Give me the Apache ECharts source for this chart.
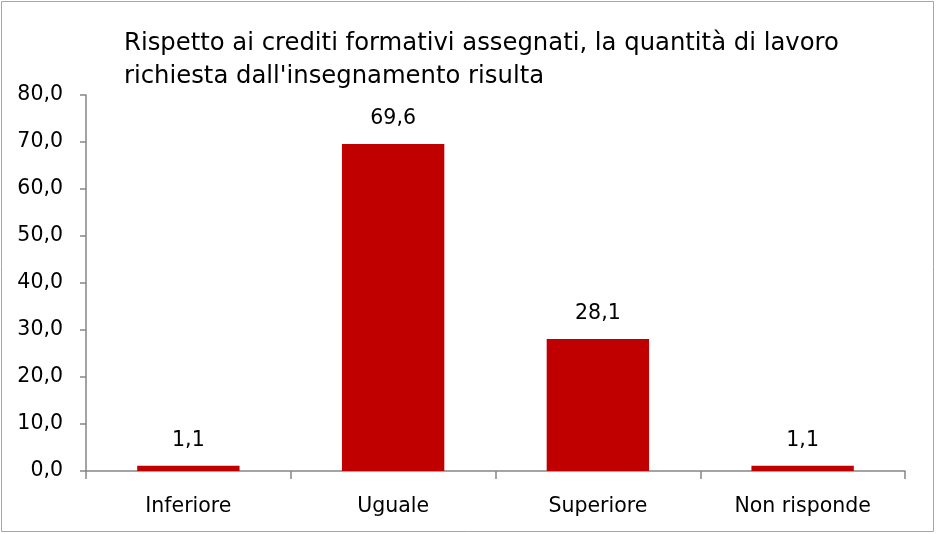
<!DOCTYPE html>
<html><head><meta charset="utf-8">
<script src="https://cdn.jsdelivr.net/npm/echarts@6/dist/echarts.min.js"></script>
<style>html,body{margin:0;padding:0;background:#fff}#c{width:936px;height:534px}</style>
</head><body><div id="c"></div>
<script>
const categories = ["Inferiore", "Uguale", "Superiore", "Non risponde"];
const values = [1.1, 69.6, 28.1, 1.1];
const titleText = "Rispetto ai crediti formativi assegnati, la quantità di lavoro\nrichiesta dall'insegnamento risulta";
const fmt = v => v.toFixed(1).replace('.', ',');
const FONT = "DejaVu Sans";
const chart = echarts.init(document.getElementById('c'));
chart.setOption({
  animation: false,
  title: {
    text: titleText, left: 119, top: 22,
    textStyle: { fontFamily: FONT, fontSize: 24.3, fontWeight: 'normal', color: '#000', lineHeight: 33 }
  },
  graphic: [{ type: 'rect', shape: { x: 1.5, y: 1.5, width: 932, height: 530 }, style: { fill: 'none', stroke: '#a6a6a6', lineWidth: 1 }, silent: true }],
  grid: { left: 86, right: 31, top: 95, bottom: 63 },
  xAxis: {
    type: 'category', data: categories,
    axisLine: { lineStyle: { color: '#868686', width: 1.5 } },
    axisTick: { show: true, alignWithLabel: false, length: 8, lineStyle: { color: '#868686', width: 1.5 } },
    axisLabel: { fontFamily: FONT, fontSize: 20.5, color: '#000', margin: 25 }
  },
  yAxis: {
    type: 'value', min: 0, max: 80, interval: 10,
    splitLine: { show: false },
    axisLine: { show: true, lineStyle: { color: '#868686', width: 1.5 } },
    axisTick: { show: true, length: 6, lineStyle: { color: '#868686', width: 1.5 } },
    axisLabel: { fontFamily: FONT, fontSize: 20.5, color: '#000', margin: 23, formatter: v => fmt(v) }
  },
  series: [{
    type: 'bar', data: values, barWidth: '50%',
    itemStyle: { color: '#C00000' },
    label: { show: true, position: 'top', distance: 15, fontFamily: FONT, fontSize: 20.5, color: '#000', formatter: p => fmt(p.value) }
  }]
});
</script></body></html>
